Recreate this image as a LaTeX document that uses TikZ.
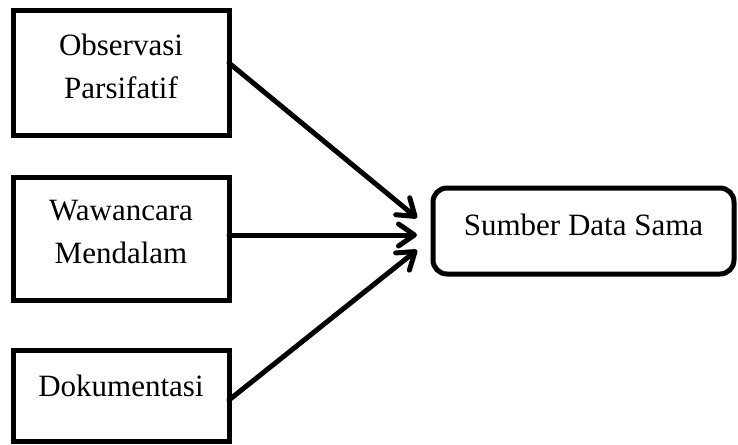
\documentclass[tikz,border=0pt]{standalone}
\usepackage{fontspec}
\setmainfont{Liberation Serif}
\usetikzlibrary{positioning,arrows.meta}
\begin{document}
\begin{tikzpicture}[x=0.5pt,y=-0.5pt,line width=2.5pt,
  kotak/.style={draw,rectangle,minimum width=108pt,outer sep=0pt,inner sep=0pt},
  teks/.style={inner sep=0pt,align=center,font=\fontsize{15.5}{21.5}\selectfont},
  panah/.style={-{Straight Barb[length=8pt,width=11pt,line join=round,line cap=round]},line cap=round}]
      \useasboundingbox (0,0) rectangle (738,444);
      \node[kotak,minimum height=62pt] (obs) at (121,73) {};
      \node[kotak,minimum height=61.5pt] (waw) at (121,238.5) {};
      \node[kotak,minimum height=45.5pt] (dok) at (121,395.5) {};
      \node[kotak,minimum width=150.5pt,minimum height=43pt,rounded corners=7pt] (smb) at (583.5,231) {};
      \node[teks,below=10pt of obs.north] (obsteks) {Observasi\\Parsifatif};
      \node[teks,below=10.5pt of waw.north] (wawteks) {Wawancara\\Mendalam};
      \node[teks,below=11pt of dok.north] (dokteks) {Dokumentasi};
      \node[teks,below=11.5pt of smb.north] (smbteks) {Sumber Data Sama};
      \draw[panah] ([yshift=5pt]obs.east) -- ([xshift=-8pt,yshift=6.5pt]smb.west);
      \draw[panah] ([yshift=1.75pt]waw.east) -- ([xshift=-8pt,yshift=-2pt]smb.west);
      \draw[panah] ([yshift=-2.25pt]dok.east) -- ([xshift=-8pt,yshift=-9.5pt]smb.west);
    \end{tikzpicture}
\end{document}
